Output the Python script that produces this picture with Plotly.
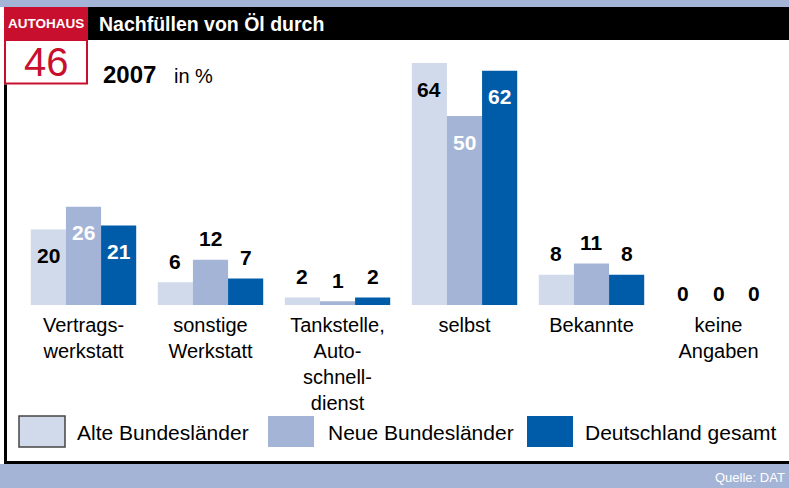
import plotly.graph_objects as go

# ---------------- data ----------------
categories = ["Vertrags-<br>werkstatt", "sonstige<br>Werkstatt", "Tankstelle,<br>Auto-<br>schnell-<br>dienst",
              "selbst", "Bekannte", "keine<br>Angaben"]
series_names = ["Alte Bundesländer", "Neue Bundesländer", "Deutschland gesamt"]
alte = [20, 6, 2, 64, 8, 0]
neue = [26, 12, 1, 50, 11, 0]
gesamt = [21, 7, 2, 62, 8, 0]
series_values = [alte, neue, gesamt]
colors = ["#D0DAEA", "#A4B4D6", "#005CA8"]

title = "Nachfüllen von Öl durch"
subtitle_year = "2007"
subtitle_unit = "in %"
source = "Quelle: DAT"

# ---------------- geometry ----------------
W, H = 789, 488
ML, MR, MT, MB = 20, 7, 55, 183
PW, PH = W - ML - MR, H - MT - MB
PX_PER_UNIT = 3.78
YMAX = PH / PX_PER_UNIT
BARGAP = 0.17
BW = (1 - BARGAP) / 3

BOLD = "Liberation Sans, Arial, Helvetica, sans-serif"
REG = "Liberation Sans, Arial, Helvetica, sans-serif"


def px(x):
    return (x - ML) / PW


def py(y):
    return (H - MB - y) / PH


fig = go.Figure()
xs = list(range(len(categories)))
for name, vals, col in zip(series_names, series_values, colors):
    fig.add_trace(go.Bar(x=xs, y=vals, name=name, marker=dict(color=col, line=dict(width=0)),
                         showlegend=False, hoverinfo="skip"))

annotations = []
# value labels
for i, vals in enumerate(series_values):
    for j, v in enumerate(vals):
        inside = v >= 15
        if inside:
            ys = -26
            col = "#000000" if i == 0 else "#FFFFFF"
        else:
            ys = 21 if v > 0 else 12
            col = "#000000"
        annotations.append(dict(x=j + (i - 1) * BW, y=v, xref="x", yref="y", text=str(v),
                                showarrow=False, yshift=ys, xanchor="center", yanchor="middle",
                                font=dict(family=BOLD, size=21, color=col, weight="bold")))

shapes = []
# top light strip
shapes.append(dict(type="rect", xref="paper", yref="paper", x0=px(0), x1=px(W), y0=py(0), y1=py(7),
                   fillcolor="#A4B4D6", line=dict(width=0), layer="below"))
# black title bar
shapes.append(dict(type="rect", xref="paper", yref="paper", x0=px(87), x1=px(W), y0=py(7), y1=py(40),
                   fillcolor="#000000", line=dict(width=0), layer="below"))
# logo red band
shapes.append(dict(type="rect", xref="paper", yref="paper", x0=px(4), x1=px(88), y0=py(7), y1=py(40),
                   fillcolor="#C8102E", line=dict(width=0), layer="below"))
# logo white box with red border
shapes.append(dict(type="rect", xref="paper", yref="paper", x0=px(5), x1=px(87), y0=py(40), y1=py(83.5),
                   fillcolor="#FFFFFF", line=dict(color="#C8102E", width=2), layer="below"))
# frame left
shapes.append(dict(type="rect", xref="paper", yref="paper", x0=px(4), x1=px(7), y0=py(84.5), y1=py(464),
                   fillcolor="#000000", line=dict(width=0), layer="below"))
# frame bottom
shapes.append(dict(type="rect", xref="paper", yref="paper", x0=px(4), x1=px(W), y0=py(461), y1=py(464),
                   fillcolor="#000000", line=dict(width=0), layer="below"))
# bottom strip
shapes.append(dict(type="rect", xref="paper", yref="paper", x0=px(0), x1=px(W), y0=py(464), y1=py(H),
                   fillcolor="#A4B4D6", line=dict(width=0), layer="below"))

# legend (manual, large swatches)
leg_box_x = [19, 268, 527]
leg_text_x = [75, 326, 583]
for k, name in enumerate(series_names):
    shapes.append(dict(type="rect", xref="paper", yref="paper",
                       x0=px(leg_box_x[k]), x1=px(leg_box_x[k] + 46), y0=py(416), y1=py(447),
                       fillcolor=colors[k],
                       line=dict(color="#444444", width=1.5) if k == 0 else dict(width=0)))
    annotations.append(dict(x=px(leg_text_x[k]), y=py(432), xref="paper", yref="paper", text=name,
                            showarrow=False, xanchor="left", yanchor="middle",
                            font=dict(family=REG, size=21, color="#000000")))

# header texts
annotations += [
    dict(x=px(46), y=py(24), xref="paper", yref="paper", text="AUTOHAUS", showarrow=False,
         xanchor="center", yanchor="middle", font=dict(family=BOLD, size=13.5, color="#FFFFFF", weight="bold")),
    dict(x=px(46), y=py(62), xref="paper", yref="paper", text="46", showarrow=False,
         xanchor="center", yanchor="middle", font=dict(family=REG, size=40, color="#C8102E")),
    dict(x=px(97), y=py(24), xref="paper", yref="paper", text=title, showarrow=False,
         xanchor="left", yanchor="middle", font=dict(family=BOLD, size=19.5, color="#FFFFFF", weight="bold")),
    dict(x=px(101), y=py(75), xref="paper", yref="paper", text=subtitle_year, showarrow=False,
         xanchor="left", yanchor="middle", font=dict(family=BOLD, size=24, color="#000000", weight="bold")),
    dict(x=px(172), y=py(76), xref="paper", yref="paper", text=subtitle_unit, showarrow=False,
         xanchor="left", yanchor="middle", font=dict(family=REG, size=20, color="#000000")),
    dict(x=px(787), y=py(477), xref="paper", yref="paper", text=source, showarrow=False,
         xanchor="right", yanchor="middle", font=dict(family=REG, size=13, color="#FFFFFF")),
]

fig.update_layout(
    width=W, height=H,
    margin=dict(l=ML, r=MR, t=MT, b=MB, pad=0),
    paper_bgcolor="#FFFFFF", plot_bgcolor="rgba(0,0,0,0)",
    barmode="group", bargap=BARGAP, bargroupgap=0,
    showlegend=False,
    shapes=shapes, annotations=annotations,
    xaxis=dict(range=[-0.5, len(categories) - 0.5], tickvals=xs, ticktext=categories,
               showgrid=False, zeroline=False, showline=False, ticks="", ticklabelstandoff=6,
               tickfont=dict(family=REG, size=20, color="#000000"), fixedrange=True),
    yaxis=dict(range=[0, YMAX], visible=False, fixedrange=True),
)

fig.write_html("out.html", config={"displayModeBar": False},
               post_script="document.body.style.margin='0';document.body.style.overflow='hidden';")
